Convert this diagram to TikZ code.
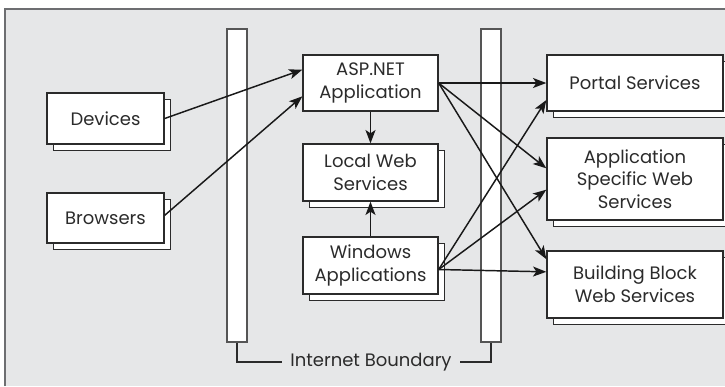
\documentclass[tikz,border=0pt]{standalone}
\usepackage{fontspec}
\setmainfont{Poppins}
\usepackage{xcolor}
\usetikzlibrary{arrows.meta,shadows}

\definecolor{bgray}{HTML}{E6E7E8}
\definecolor{fgray}{HTML}{6D6E71}
\definecolor{ink}{HTML}{2B2B2B}

\begin{document}
\begin{tikzpicture}[x=0.75pt,y=-0.75pt,
  box/.style={draw=ink, fill=white, line width=1pt, align=center, font=\fontsize{13.5}{17}\selectfont, text=ink, inner sep=0pt},
  stk/.style={box, copy shadow={shadow xshift=5pt, shadow yshift=-5pt}},
  bar/.style={draw=ink!80, fill=white, line width=1pt, minimum width=15pt, minimum height=234.75pt, inner sep=0pt},
  flow/.style={-{Stealth[length=10pt,width=7.5pt,inset=2.5pt]}, line width=1.1pt, draw=black!90},
]
\useasboundingbox (0,0) rectangle (725,386);
% frame
\fill[bgray] (5,9) rectangle (725,386);
\draw[fgray, line width=1.2pt] (5,386) -- (5,9) -- (725,9);
% internet boundary
\node[bar] (lbar) at (237,185.5) {};
\node[bar] (rbar) at (491,185.5) {};
\node[font=\fontsize{13.5}{17}\selectfont, text=ink, inner sep=6pt] (bnd) at (371,362) {Internet Boundary};
\draw[ink, line width=0.9pt] (lbar.south) |- (bnd.west);
\draw[ink, line width=0.9pt] (rbar.south) |- (bnd.east);
% clients
\node[stk, minimum width=87.75pt, minimum height=38.25pt] (dev) at (105.5,118.5) {Devices};
\node[stk, minimum width=87.75pt, minimum height=37.5pt] (brw) at (105.5,218) {Browsers};
% middle tier
\node[box, minimum width=101.25pt, minimum height=42pt] (asp) at (370.5,83) {ASP.NET\\Application};
\node[stk, minimum width=101.25pt, minimum height=42.75pt] (lws) at (370.5,172.5) {Local Web\\Services};
\node[stk, minimum width=101.25pt, minimum height=42.75pt] (win) at (370.5,265.5) {Windows\\Applications};
% services
\node[stk, minimum width=132pt, minimum height=42pt] (prt) at (635,83) {Portal Services};
\node[stk, minimum width=132pt, minimum height=61.5pt] (aws) at (635,179) {Application\\Specific Web\\Services};
\node[stk, minimum width=132pt, minimum height=50.25pt] (bws) at (635,284.5) {Building Block\\Web Services};
% connectors
\draw[flow] (dev.east) -- ([yshift=10pt]asp.west);
\draw[flow] ([yshift=2pt]brw.east) -- ([yshift=-10pt]asp.west);
\draw[flow] (asp.south) -- (lws.north);
\draw[flow] (win.north) -- (lws.south);
\draw[flow] (asp.east) -- (prt.west);
\draw[flow] (asp.east) -- ([yshift=8pt]aws.west);
\draw[flow] (asp.east) -- ([yshift=19pt]bws.west);
\draw[flow] ([yshift=-3pt]win.east) -- ([yshift=-12.75pt]prt.west);
\draw[flow] ([yshift=-3pt]win.east) -- ([yshift=-8pt]aws.west);
\draw[flow] ([yshift=-3pt]win.east) -- ([yshift=9.5pt]bws.west);
\end{tikzpicture}
\end{document}
